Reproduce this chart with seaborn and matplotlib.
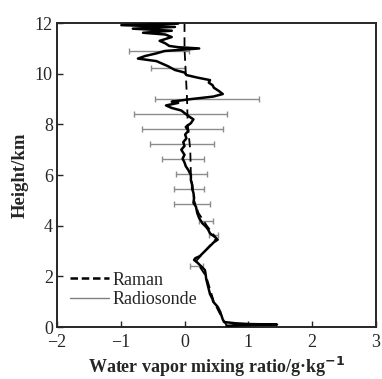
import numpy as np
import pandas as pd
import seaborn as sns
import matplotlib
matplotlib.use("Agg")
import matplotlib.pyplot as plt
from matplotlib.lines import Line2D

# radiosonde profile (height km, mixing ratio g/kg)
sonde_h = [0.0, 0.05, 0.08, 0.10, 0.12, 0.15, 0.2, 0.3, 0.45, 0.6, 0.8, 1.0, 1.1, 1.3,
           1.5, 1.7, 1.9, 2.1, 2.25, 2.4, 2.55, 2.65, 2.72, 2.8, 2.9, 3.05, 3.2, 3.35,
           3.45, 3.55, 3.7, 3.85, 3.95, 4.1, 4.3, 4.5, 4.75, 4.9, 5.1, 5.3, 5.45, 5.6,
           5.8, 6.0, 6.2, 6.35, 6.5, 6.65, 6.8, 7.0, 7.15, 7.3, 7.45, 7.6, 7.75, 7.9,
           8.05, 8.2, 8.3, 8.45, 8.55, 8.65, 8.75, 8.85, 8.9, 9.0, 9.1, 9.2, 9.3, 9.45,
           9.55, 9.65, 9.75, 9.85, 9.95, 10.05, 10.15, 10.3, 10.4, 10.5, 10.6, 10.7,
           10.8, 10.9, 11.0, 11.05, 11.1, 11.2, 11.3, 11.45, 11.55, 11.62, 11.7, 11.78,
           11.85, 11.92, 11.98]
sonde_q = [0.68, 0.66, 1.0, 1.45, 1.0, 0.8, 0.62, 0.60, 0.58, 0.56, 0.52, 0.45, 0.44, 0.40,
           0.38, 0.36, 0.34, 0.33, 0.32, 0.26, 0.20, 0.15, 0.17, 0.24, 0.28, 0.34, 0.40, 0.46,
           0.52, 0.48, 0.40, 0.37, 0.34, 0.28, 0.23, 0.20, 0.18, 0.14, 0.15, 0.14, 0.12, 0.12,
           0.10, 0.10, 0.06, 0.02, 0.0, -0.03, 0.0, -0.05, 0.0, -0.02, 0.03, 0.01, 0.06, 0.02,
           0.10, 0.14, 0.08, 0.0, -0.05, -0.2, -0.29, -0.1, -0.2, 0.1, 0.45, 0.60, 0.55, 0.46,
           0.44, 0.38, 0.40, 0.20, 0.03, 0.0, -0.15, -0.26, -0.35, -0.44, -0.73, -0.62,
           -0.45, -0.31, 0.23, -0.1, -0.24, -0.30, -0.39, -0.2, -0.30, -0.65, -0.20, -0.81,
           -0.15, -0.99, -0.10]

# Raman lidar profile
raman_h = [0.0, 0.3, 1.0, 2.0, 2.6, 3.0, 3.5, 4.0, 4.5, 5.0, 5.5, 6.0, 7.0, 8.0, 9.0,
           10.0, 11.0, 12.0]
raman_q = [0.68, 0.60, 0.46, 0.34, 0.18, 0.32, 0.50, 0.35, 0.22, 0.15, 0.13, 0.10, 0.09,
           0.05, 0.04, 0.02, 0.0, 0.0]

# error bars (height, centre, half width)
err_h = [2.41, 3.64, 4.20, 4.85, 5.44, 6.05, 6.63, 7.22, 7.83, 8.41, 9.01, 10.22, 10.88]
err_c = [0.19, 0.45, 0.33, 0.12, 0.07, 0.11, -0.02, -0.04, -0.03, -0.06, 0.35, -0.26, -0.40]
err_w = [0.10, 0.07, 0.11, 0.28, 0.24, 0.24, 0.33, 0.50, 0.64, 0.73, 0.81, 0.26, 0.47]

sns.set_style("ticks")
plt.rcParams["font.family"] = ["Liberation Serif", "DejaVu Serif"]
plt.rcParams["axes.linewidth"] = 1.4

fig = plt.figure(figsize=(3.82, 3.79), dpi=100)
ax = fig.add_axes([0.149, 0.137, 0.835, 0.802])

ax.errorbar(err_c, err_h, xerr=err_w, fmt="none", ecolor="#8c8c8c",
            elinewidth=1.0, capsize=2, capthick=1.0, zorder=1)

sonde = pd.DataFrame({"h": sonde_h, "q": sonde_q})
raman = pd.DataFrame({"h": raman_h, "q": raman_q})
sns.lineplot(data=sonde, x="q", y="h", sort=False, estimator=None,
             color="black", linewidth=1.8, ax=ax, zorder=3)
sns.lineplot(data=raman, x="q", y="h", sort=False, estimator=None,
             color="black", linewidth=1.3, linestyle=(0, (5, 3)), ax=ax, zorder=2)

ax.set_xlim(-2, 3)
ax.set_ylim(0, 12)
ax.set_xticks([-2, -1, 0, 1, 2, 3])
ax.set_yticks([0, 2, 4, 6, 8, 10, 12])
ax.tick_params(direction="in", length=4, width=1, labelsize=13)
ax.tick_params(axis="x", pad=5)
ax.tick_params(axis="y", pad=3)
ax.set_xlabel("Water vapor mixing ratio/g·kg$^{\\mathbf{-1}}$", fontsize=13,
              fontweight="bold", labelpad=3)
ax.set_ylabel("Height/km", fontsize=13.5, fontweight="bold", labelpad=4)

handles = [Line2D([], [], color="black", linestyle=(0, (3, 1.5)), linewidth=1.8),
           Line2D([], [], color="#808080", linewidth=1.0)]
ax.legend(handles, ["Raman", "Radiosonde"], loc="lower left", frameon=False,
          fontsize=13, handlelength=2.2, handletextpad=0.2, labelspacing=0.15,
          borderaxespad=0.3, bbox_to_anchor=(0.0, 0.02))

fig.savefig("out.png", dpi=100)
